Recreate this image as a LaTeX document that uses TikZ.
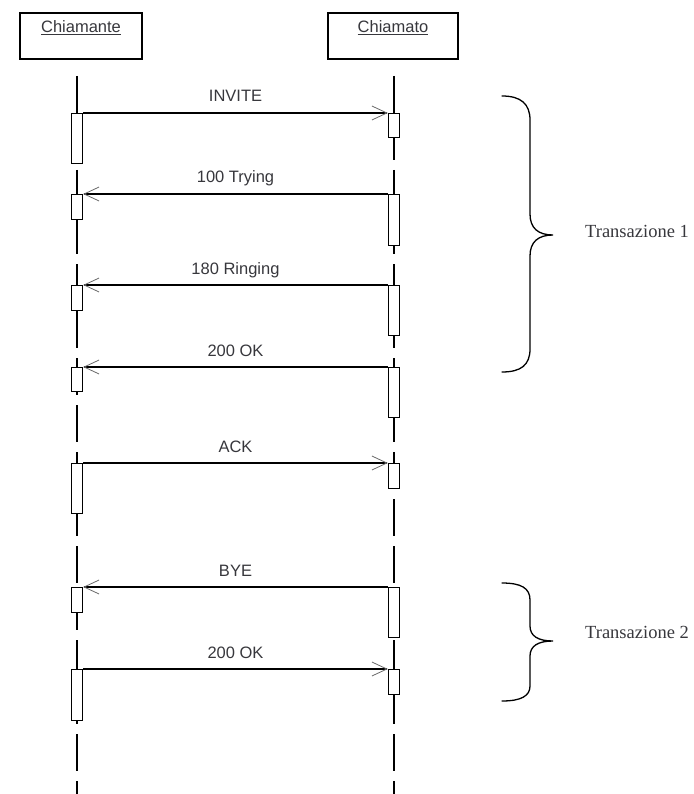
\documentclass[tikz,border=0pt]{standalone}
\usepackage{fontspec}
\setmainfont{Liberation Serif}
\setsansfont{Liberation Sans}
\usepackage{tikz}
\usetikzlibrary{arrows.meta}
\definecolor{textgray}{RGB}{55,55,60}
\definecolor{tipgray}{RGB}{105,105,105}
\tikzset{
  head-node/.style={draw, line width=1.3pt, font=\sffamily\fontsize{16.5}{18}\selectfont,
    text=textgray, anchor=base, text height=16pt, text depth=22pt, inner xsep=0pt, inner ysep=4pt},
  life-line/.style={line width=1.3pt, dash pattern=on 37pt off 10pt},
  act-box/.style={draw, fill=white, line width=1.3pt, minimum width=11pt, inner sep=0pt, anchor=north},
  msg-arrow/.style={line width=1.2pt, -{Straight Barb[length=15pt, width=14pt, line width=0.8pt, color=tipgray]}},
  msg-label/.style={font=\sffamily\fontsize{16.5}{18}\selectfont, text=textgray, anchor=base,
    inner sep=0pt, yshift=11pt},
  trans-brace/.style={line width=1.3pt, line cap=round},
  trans-label/.style={font=\rmfamily\fontsize{18.5}{20}\selectfont, text=textgray, anchor=base west, inner sep=0pt}
}
\begin{document}
\begin{tikzpicture}[x=1pt, y=-1pt]
\useasboundingbox (0,0) rectangle (693,794);
% partecipanti
\node[head-node, minimum width=122pt] (chiamante) at (81,33) {\underline{Chiamante}};
\node[head-node, minimum width=130pt] (chiamato) at (393,33) {\underline{Chiamato}};
\coordinate (lifeA) at (77,76);
\coordinate (lifeB) at (394,76);
\draw[life-line] (lifeA) -- (lifeA |- 0,800);
\draw[life-line] (lifeB) -- (lifeB |- 0,800);
% attivazioni chiamante
\node[act-box, minimum height=50pt] (lact1) at (77,113) {};
\node[act-box, minimum height=25pt] (lact2) at (77,194) {};
\node[act-box, minimum height=25pt] (lact3) at (77,285) {};
\node[act-box, minimum height=24pt] (lact4) at (77,367) {};
\node[act-box, minimum height=50pt] (lact5) at (77,463) {};
\node[act-box, minimum height=25pt] (lact6) at (77,587) {};
\node[act-box, minimum height=51pt] (lact7) at (77,669) {};
% attivazioni chiamato
\node[act-box, minimum height=24pt] (ract1) at (394,113) {};
\node[act-box, minimum height=51pt] (ract2) at (394,194) {};
\node[act-box, minimum height=50pt] (ract3) at (394,285) {};
\node[act-box, minimum height=50pt] (ract4) at (394,367) {};
\node[act-box, minimum height=25pt] (ract5) at (394,463) {};
\node[act-box, minimum height=50pt] (ract6) at (394,587) {};
\node[act-box, minimum height=25pt] (ract7) at (394,669) {};
% messaggi
\draw[msg-arrow] (lact1.north east) -- node[msg-label] {INVITE} (ract1.north west);
\draw[msg-arrow] (ract2.north west) -- node[msg-label] {100 Trying} (lact2.north east);
\draw[msg-arrow] (ract3.north west) -- node[msg-label] {180 Ringing} (lact3.north east);
\draw[msg-arrow] (ract4.north west) -- node[msg-label] {200 OK} (lact4.north east);
\draw[msg-arrow] (lact5.north east) -- node[msg-label] {ACK} (ract5.north west);
\draw[msg-arrow] (ract6.north west) -- node[msg-label] {BYE} (lact6.north east);
\draw[msg-arrow] (lact7.north east) -- node[msg-label] {200 OK} (ract7.north west);
% transazioni
\draw[trans-brace] (502,96) .. controls (521,96) and (530,104) .. (530,120) -- (530,214)
  .. controls (530,228) and (538,235) .. (553,235) .. controls (538,235) and (530,242) .. (530,256)
  -- (530,349) .. controls (530,365) and (521,372) .. (502,372);
\draw[trans-brace] (502,583) .. controls (521,583) and (530,588) .. (530,600) -- (530,626)
  .. controls (530,636) and (538,641) .. (553,641) .. controls (538,641) and (530,646) .. (530,656)
  -- (530,686) .. controls (530,696) and (521,701) .. (502,701);
\node[trans-label] (trans1) at (585,237) {Transazione 1};
\node[trans-label] (trans2) at (585,638) {Transazione 2};
\end{tikzpicture}
\end{document}
